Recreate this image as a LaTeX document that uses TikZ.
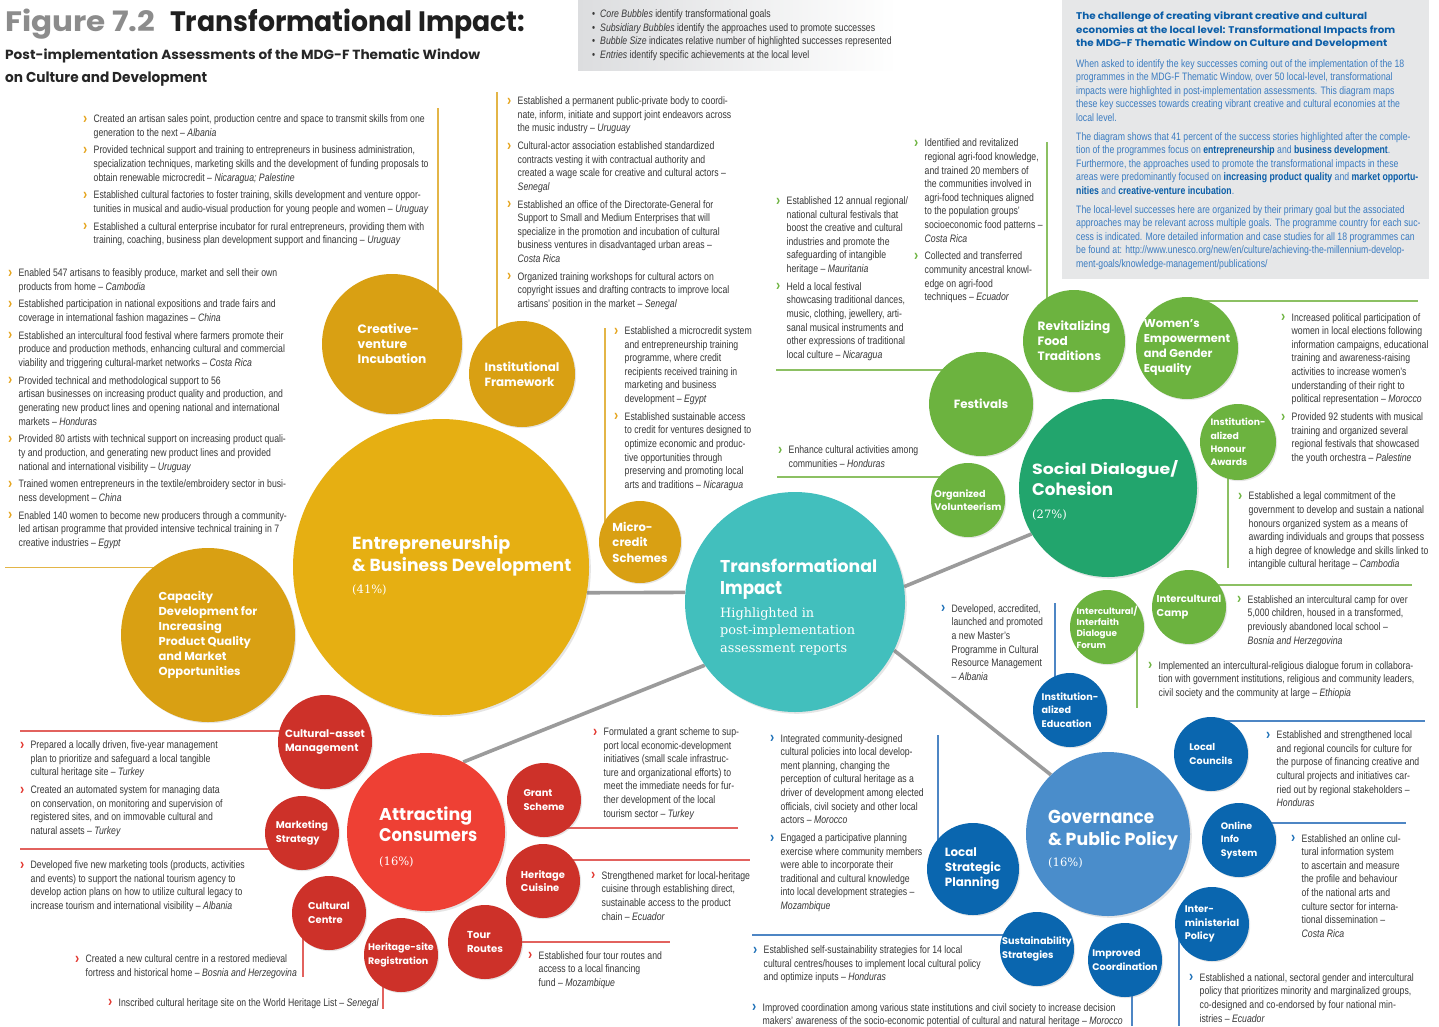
\documentclass[tikz,border=0pt]{standalone}
\usepackage{fontspec}
\usepackage{graphicx}
\setmainfont{Liberation Sans}
\newfontfamily\cond[FakeStretch=0.805]{Liberation Sans}
\newfontfamily\pop{Poppins}
\newfontfamily\slab{DejaVu Serif}
\usetikzlibrary{shadows,backgrounds}
\definecolor{goldC}{HTML}{E6AF12}
\definecolor{goldS}{HTML}{D9A013}
\definecolor{tealC}{HTML}{42BFBD}
\definecolor{greenC}{HTML}{22A56D}
\definecolor{greenS}{HTML}{6CB33F}
\definecolor{blueC}{HTML}{4A8DCB}
\definecolor{blueS}{HTML}{0A66AF}
\definecolor{redC}{HTML}{EE4034}
\definecolor{redS}{HTML}{CD3129}
\definecolor{bodyT}{HTML}{383838}
\definecolor{infoT}{HTML}{3A7BC0}
\definecolor{infoH}{HTML}{0B5EA8}
\definecolor{infoBG}{HTML}{E6E7E8}
\definecolor{legBG}{HTML}{DCDDDF}
\definecolor{connG}{HTML}{9B9B9B}
\definecolor{figG}{HTML}{8C8C8C}
\definecolor{bGold}{HTML}{E5A31A}
\definecolor{bRed}{HTML}{E2352D}
\definecolor{bGreen}{HTML}{6CB33F}
\definecolor{bBlue}{HTML}{1C6FB7}
\definecolor{sGold}{HTML}{E3B547}
\definecolor{sRed}{HTML}{E2625E}
\definecolor{sGreen}{HTML}{8CC063}
\definecolor{sBlue}{HTML}{4E86C4}
\newlength\bulw
\setlength\bulw{10.5pt}
\newcommand\bulx[1]{\makebox[\bulw][l]{\textcolor{#1}{\raisebox{-0.6pt}{\scalebox{1.45}{\bfseries ›}}}}}
\newcommand\bulG{\bulx{bGold}}
\newcommand\bulR{\bulx{bRed}}
\newcommand\bulN{\bulx{bGreen}}
\newcommand\bulB{\bulx{bBlue}}
\newcommand\cindent{\hspace*{\bulw}}
\newcommand\cty[1]{\textit{#1}}
\newcommand\fitb[3]{\resizebox{#1pt}{#2pt}{#3}}
\newcommand\fitw[2]{\resizebox{#1pt}{!}{#2}}
\newcommand\infb[1]{\textcolor{infoH}{\bfseries #1}}
\begin{document}
\begin{tikzpicture}[x=1pt,y=-1pt,
  core/.style 2 args={circle, inner sep=0pt, minimum size=#2, fill=#1, drop shadow={shadow xshift=1.8pt, shadow yshift=-1.8pt, opacity=0.2}},
  bub/.style 2 args={circle, inner sep=0pt, minimum size=#2, fill=#1, drop shadow={shadow xshift=1.2pt, shadow yshift=-1.2pt, opacity=0.2}},
  lb/.style 2 args={text=white, align=left, inner sep=0pt, font=\pop\bfseries\fontsize{#1}{#2}\selectfont},
  hd/.style={anchor=base west, inner sep=0pt, text=white, font=\pop\bfseries},
  pct/.style={anchor=base west, inner sep=0pt, text=white, font=\slab\fontsize{11.5}{14}\selectfont},
  txt/.style={anchor=north west, inner sep=0pt, align=left, text=bodyT, font=\cond\fontsize{10.8}{13.6}\selectfont},
  conn/.style={draw=connG, line width=3.6pt},
  sep/.style={draw=#1, line width=1.2pt},
]
\useasboundingbox (0,0) rectangle (1439,1026);

% ---------- boxes ----------
\shade[left color=legBG, right color=white] (578,0) rectangle (897,70);
\fill[infoBG] (1062,0) rectangle (1429,279);

% ---------- title ----------
\node[hd, text=figG] (tfig) at (5,31) {\fitb{150}{22.5}{Figure 7.2}};
\node[hd, text=black!88] (ttl) at (170,31) {\fitb{355}{22.5}{Transformational Impact:}};
\node[hd, text=black!85] (st1) at (5,59) {\fitb{475}{10.6}{Post-implementation Assessments of the MDG-F Thematic Window}};
\node[hd, text=black!85] (st2) at (5,82.3) {\fitb{202}{10.6}{on Culture and Development}};

% ---------- legend ----------
\node[txt] (leg) at (592,9.7) {%
\makebox[8pt][l]{•}\textit{Core Bubbles} identify transformational goals\\
\makebox[8pt][l]{•}\textit{Subsidiary Bubbles} identify the approaches used to promote successes\\
\makebox[8pt][l]{•}\textit{Bubble Size} indicates relative number of highlighted successes represented\\
\makebox[8pt][l]{•}\textit{Entries} identify specific achievements at the local level};

% ---------- info box ----------
\node[hd, text=infoH] (ih1) at (1076,19.5) {\fitb{291}{7.8}{The challenge of creating vibrant creative and cultural}};
\node[hd, text=infoH] (ih2) at (1076,33) {\fitb{319}{7.8}{economies at the local level: Transformational Impacts from}};
\node[hd, text=infoH] (ih3) at (1076,46.5) {\fitb{311}{7.8}{the MDG-F Thematic Window on Culture and Development}};
\node[txt, text=infoT] (ibody) at (1076,59) {%
When asked to identify the key successes coming out of the implementation of the 18\\
programmes in the MDG-F Thematic Window, over 50 local-level, transformational\\
impacts were highlighted in post-implementation assessments. This diagram maps\\
these key successes towards creating vibrant creative and cultural economies at the\\
local level.\\[5pt]
The diagram shows that 41 percent of the success stories highlighted after the comple-\\
tion of the programmes focus on \infb{entrepreneurship} and \infb{business development}.\\
Furthermore, the approaches used to promote the transformational impacts in these\\
areas were predominantly focused on \infb{increasing product quality} and \infb{market opportu-}\\
\infb{nities} and \infb{creative-venture incubation}.\\[5pt]
The local-level successes here are organized by their primary goal but the associated\\
approaches may be relevant across multiple goals. The programme country for each suc-\\
cess is indicated. More detailed information and case studies for all 18 programmes can\\
be found at: http://www.unesco.org/new/en/culture/achieving-the-millennium-develop-\\
ment-goals/knowledge-management/publications/};

% ---------- bubbles: gold ----------
\node[core={goldC}{296pt}] (ebd) at (441,567) {};
\node[bub={goldS}{140pt}, label={[lb={12.2}{15}]center:{Creative-\\venture\\Incubation}}] (cvi) at (392,344) {};
\node[bub={goldS}{106pt}, label={[lb={11.9}{15}]center:{Institutional\\Framework}}] (ifw) at (522,374) {};
\node[bub={goldS}{82pt}, label={[lb={11.6}{15.5}]center:{Micro-\\credit\\Schemes}}] (mcs) at (640,542) {};
\node[bub={goldS}{174pt}, label={[lb={11.5}{15}]center:{Capacity\\Development for\\Increasing\\Product Quality\\and Market\\Opportunities}}] (cap) at (208,635) {};

% ---------- teal ----------
\node[core={tealC}{220pt}] (ti) at (795,602) {};

% ---------- green ----------
\node[core={greenC}{178pt}] (sdc) at (1108,488) {};
\node[bub={greenS}{102pt}, label={[lb={12.1}{15}]center:{Revitalizing\\Food\\Traditions}}] (rft) at (1074,341) {};
\node[bub={greenS}{102pt}, label={[lb={11.4}{15}]center:{Women’s\\Empowerment\\and Gender\\Equality}}] (weg) at (1187,348) {};
\node[bub={greenS}{104pt}, label={[lb={11.9}{15}]center:{Festivals}}] (fes) at (981,404) {};
\node[bub={greenS}{74pt}, label={[lb={9.6}{13.5}]center:{Organized\\Volunteerism}}] (ovo) at (968,500) {};
\node[bub={greenS}{76pt}, label={[lb={9.3}{13.3}]center:{Institution-\\alized\\Honour\\Awards}}] (iha) at (1238,442) {};
\node[bub={greenS}{74pt}, label={[lb={10}{13.5}]center:{Intercultural\\Camp}}] (icc) at (1189,607) {};
\node[bub={greenS}{74pt}, label={[lb={8.8}{11.3}]center:{Intercultural/\\Interfaith\\Dialogue\\Forum}}] (ifd) at (1107,627) {};

% ---------- blue ----------
\node[core={blueC}{164pt}] (gpp) at (1108,834) {};
\node[bub={blueS}{74pt}, label={[lb={9.6}{13.5}]center:{Institution-\\alized\\Education}}] (ied) at (1070,710) {};
\node[bub={blueS}{74pt}, label={[lb={9.6}{14}]center:{Local\\Councils}}] (lco) at (1211,754) {};
\node[bub={blueS}{74pt}, label={[lb={9.4}{13.5}]center:{Online\\Info\\System}}] (ois) at (1239,840) {};
\node[bub={blueS}{74pt}, label={[lb={9.7}{13.8}]center:{Inter-\\ministerial\\Policy}}] (imp) at (1212,924) {};
\node[bub={blueS}{74pt}, label={[lb={9.6}{14}]center:{Improved\\Coordination}}] (ico) at (1125,960) {};
\node[bub={blueS}{74pt}, label={[lb={9.7}{14}]center:{Sustainability\\Strategies}}] (sst) at (1037,949) {};
\node[bub={blueS}{92pt}, label={[lb={11.9}{15}]center:{Local\\Strategic\\Planning}}] (lsp) at (973,869) {};

% ---------- red ----------
\node[core={redC}{158pt}] (ac) at (426,832) {};
\node[bub={redS}{94pt}, label={[lb={10.5}{14}]center:{Cultural-asset\\Management}}] (cam) at (325,742) {};
\node[bub={redS}{74pt}, label={[lb={9.8}{14}]center:{Marketing\\Strategy}}] (mst) at (302,833) {};
\node[bub={redS}{74pt}, label={[lb={9.9}{14}]center:{Cultural\\Centre}}] (cce) at (329,913) {};
\node[bub={redS}{74pt}, label={[lb={9.5}{13.5}]center:{Heritage-site\\Registration}}] (hsr) at (401,955) {};
\node[bub={redS}{74pt}, label={[lb={10.1}{13.8}]center:{Tour\\Routes}}] (tro) at (485,942) {};
\node[bub={redS}{74pt}, label={[lb={9.9}{13.8}]center:{Heritage\\Cuisine}}] (hcu) at (543,881) {};
\node[bub={redS}{74pt}, label={[lb={9.8}{14}]center:{Grant\\Scheme}}] (gsc) at (544,800) {};

% ---------- core labels ----------
\node[hd] (ebdl1) at (352,549.3) {\fitb{158}{14}{Entrepreneurship}};
\node[hd] (ebdl2) at (352,571) {\fitb{219}{14}{\& Business Development}};
\node[pct] (ebdl3) at (352,593) {(41\%)};
\node[hd] (til1) at (720,572) {\fitb{157}{13.7}{Transformational}};
\node[hd] (til2) at (720,594) {\fitb{62}{13}{Impact}};
\node[pct] (til3) at (720,617) {\fitw{94}{Highlighted in}};
\node[pct] (til4) at (720,634.5) {\fitw{135}{post-implementation}};
\node[pct] (til5) at (720,652) {\fitw{127}{assessment reports}};
\node[hd] (sdcl1) at (1032,474.3) {\fitb{146}{14}{Social Dialogue/}};
\node[hd] (sdcl2) at (1032,495.3) {\fitb{81}{13.5}{Cohesion}};
\node[pct] (sdcl3) at (1032,518) {(27\%)};
\node[hd] (gppl1) at (1048,823.3) {\fitb{106}{13.3}{Governance}};
\node[hd] (gppl2) at (1048,845) {\fitb{130}{14}{\& Public Policy}};
\node[pct] (gppl3) at (1048,866.7) {(16\%)};
\node[hd] (acl1) at (379,820.7) {\fitb{93}{13.7}{Attracting}};
\node[hd] (acl2) at (379,841.7) {\fitb{98}{13}{Consumers}};
\node[pct] (acl3) at (379,865.7) {(16\%)};

% ---------- gold entries ----------
\node[txt] (g1) at (83,114.5) {%
\bulG Created an artisan sales point, production centre and space to transmit skills from one\\
\cindent generation to the next – \cty{Albania}\\[4.2pt]
\bulG Provided technical support and training to entrepreneurs in business administration,\\
\cindent specialization techniques, marketing skills and the development of funding proposals to\\
\cindent obtain renewable microcredit – \cty{Nicaragua; Palestine}\\[4.2pt]
\bulG Established cultural factories to foster training, skills development and venture oppor-\\
\cindent tunities in musical and audio-visual production for young people and women – \cty{Uruguay}\\[4.2pt]
\bulG Established a cultural enterprise incubator for rural entrepreneurs, providing them with\\
\cindent training, coaching, business plan development support and financing – \cty{Uruguay}};

\node[txt] (g2) at (8,268.5) {%
\bulG Enabled 547 artisans to feasibly produce, market and sell their own\\
\cindent products from home – \cty{Cambodia}\\[4.2pt]
\bulG Established participation in national expositions and trade fairs and\\
\cindent coverage in international fashion magazines – \cty{China}\\[4.2pt]
\bulG Established an intercultural food festival where farmers promote their\\
\cindent produce and production methods, enhancing cultural and commercial\\
\cindent viability and triggering cultural-market networks – \cty{Costa Rica}\\[4.2pt]
\bulG Provided technical and methodological support to 56\\
\cindent artisan businesses on increasing product quality and production, and\\
\cindent generating new product lines and opening national and international\\
\cindent markets – \cty{Honduras}\\[4.2pt]
\bulG Provided 80 artists with technical support on increasing product quali-\\
\cindent ty and production, and generating new product lines and provided\\
\cindent national and international visibility – \cty{Uruguay}\\[4.2pt]
\bulG Trained women entrepreneurs in the textile/embroidery sector in busi-\\
\cindent ness development – \cty{China}\\[4.2pt]
\bulG Enabled 140 women to become new producers through a community-\\
\cindent led artisan programme that provided intensive technical training in 7\\
\cindent creative industries – \cty{Egypt}};

\node[txt] (g3) at (507,96.5) {%
\bulG Established a permanent public-private body to coordi-\\
\cindent nate, inform, initiate and support joint endeavors across\\
\cindent the music industry – \cty{Uruguay}\\[4.2pt]
\bulG Cultural-actor association established standardized\\
\cindent contracts vesting it with contractual authority and\\
\cindent created a wage scale for creative and cultural actors –\\
\cindent \cty{Senegal}\\[4.2pt]
\bulG Established an office of the Directorate-General for\\
\cindent Support to Small and Medium Enterprises that will\\
\cindent specialize in the promotion and incubation of cultural\\
\cindent business ventures in disadvantaged urban areas –\\
\cindent \cty{Costa Rica}\\[4.2pt]
\bulG Organized training workshops for cultural actors on\\
\cindent copyright issues and drafting contracts to improve local\\
\cindent artisans’ position in the market – \cty{Senegal}};

\node[txt] (g4) at (614,326.5) {%
\bulG Established a microcredit system\\
\cindent and entrepreneurship training\\
\cindent programme, where credit\\
\cindent recipients received training in\\
\cindent marketing and business\\
\cindent development – \cty{Egypt}\\[4.2pt]
\bulG Established sustainable access\\
\cindent to credit for ventures designed to\\
\cindent optimize economic and produc-\\
\cindent tive opportunities through\\
\cindent preserving and promoting local\\
\cindent arts and traditions – \cty{Nicaragua}};

% ---------- green entries ----------
\node[txt] (n1) at (776,196.5) {%
\bulN Established 12 annual regional/\\
\cindent national cultural festivals that\\
\cindent boost the creative and cultural\\
\cindent industries and promote the\\
\cindent safeguarding of intangible\\
\cindent heritage – \cty{Mauritania}\\[4.2pt]
\bulN Held a local festival\\
\cindent showcasing traditional dances,\\
\cindent music, clothing, jewellery, arti-\\
\cindent sanal musical instruments and\\
\cindent other expressions of traditional\\
\cindent local culture – \cty{Nicaragua}};

\node[txt] (n2) at (914,138.8) {%
\bulN Identified and revitalized\\
\cindent regional agri-food knowledge,\\
\cindent and trained 20 members of\\
\cindent the communities involved in\\
\cindent agri-food techniques aligned\\
\cindent to the population groups’\\
\cindent socioeconomic food patterns –\\
\cindent \cty{Costa Rica}\\[4.2pt]
\bulN Collected and transferred\\
\cindent community ancestral knowl-\\
\cindent edge on agri-food\\
\cindent techniques – \cty{Ecuador}};

\node[txt] (n3) at (778,445.8) {%
\bulN Enhance cultural activities among\\
\cindent communities – \cty{Honduras}};

\node[txt] (n4) at (1281,313) {%
\bulN Increased political participation of\\
\cindent women in local elections following\\
\cindent information campaigns, educational\\
\cindent training and awareness-raising\\
\cindent activities to increase women’s\\
\cindent understanding of their right to\\
\cindent political representation – \cty{Morocco}\\[4.2pt]
\bulN Provided 92 students with musical\\
\cindent training and organized several\\
\cindent regional festivals that showcased\\
\cindent the youth orchestra – \cty{Palestine}};

\node[txt] (n5) at (1238,491.8) {%
\bulN Established a legal commitment of the\\
\cindent government to develop and sustain a national\\
\cindent honours organized system as a means of\\
\cindent awarding individuals and groups that possess\\
\cindent a high degree of knowledge and skills linked to\\
\cindent intangible cultural heritage – \cty{Cambodia}};

\node[txt] (n6) at (1237,595.3) {%
\bulN Established an intercultural camp for over\\
\cindent 5,000 children, housed in a transformed,\\
\cindent previously abandoned local school –\\
\cindent \cty{Bosnia and Herzegovina}};

\node[txt] (n7) at (1148,661.3) {%
\bulN Implemented an intercultural-religious dialogue forum in collabora-\\
\cindent tion with government institutions, religious and community leaders,\\
\cindent civil society and the community at large – \cty{Ethiopia}};

% ---------- blue entries ----------
\node[txt] (u1) at (941,604.3) {%
\bulB Developed, accredited,\\
\cindent launched and promoted\\
\cindent a new Master’s\\
\cindent Programme in Cultural\\
\cindent Resource Management\\
\cindent – \cty{Albania}};

\node[txt] (u2) at (1266,730.7) {%
\bulB Established and strengthened local\\
\cindent and regional councils for culture for\\
\cindent the purpose of financing creative and\\
\cindent cultural projects and initiatives car-\\
\cindent ried out by regional stakeholders –\\
\cindent \cty{Honduras}};

\node[txt] (u3) at (1291,834) {%
\bulB Established an online cul-\\
\cindent tural information system\\
\cindent to ascertain and measure\\
\cindent the profile and behaviour\\
\cindent of the national arts and\\
\cindent culture sector for interna-\\
\cindent tional dissemination –\\
\cindent \cty{Costa Rica}};

\node[txt] (u4) at (1189,973.3) {%
\bulB Established a national, sectoral gender and intercultural\\
\cindent policy that prioritizes minority and marginalized groups,\\
\cindent co-designed and co-endorsed by four national min-\\
\cindent istries – \cty{Ecuador}};

\node[txt] (u5) at (770,734) {%
\bulB Integrated community-designed\\
\cindent cultural policies into local develop-\\
\cindent ment planning, changing the\\
\cindent perception of cultural heritage as a\\
\cindent driver of development among elected\\
\cindent officials, civil society and other local\\
\cindent actors – \cty{Morocco}\\[4.2pt]
\bulB Engaged a participative planning\\
\cindent exercise where community members\\
\cindent were able to incorporate their\\
\cindent traditional and cultural knowledge\\
\cindent into local development strategies –\\
\cindent \cty{Mozambique}};

\node[txt] (u6) at (753,945.7) {%
\bulB Established self-sustainability strategies for 14 local\\
\cindent cultural centres/houses to implement local cultural policy\\
\cindent and optimize inputs – \cty{Honduras}};

\node[txt] (u7) at (752,1003.3) {%
\bulB Improved coordination among various state institutions and civil society to increase decision\\
\cindent makers’ awareness of the socio-economic potential of cultural and natural heritage – \cty{Morocco}};

% ---------- red entries ----------
\node[txt] (r1) at (20,740.5) {%
\bulR Prepared a locally driven, five-year management\\
\cindent plan to prioritize and safeguard a local tangible\\
\cindent cultural heritage site – \cty{Turkey}\\[4.2pt]
\bulR Created an automated system for managing data\\
\cindent on conservation, on monitoring and supervision of\\
\cindent registered sites, and on immovable cultural and\\
\cindent natural assets – \cty{Turkey}};

\node[txt] (r2) at (20,860.5) {%
\bulR Developed five new marketing tools (products, activities\\
\cindent and events) to support the national tourism agency to\\
\cindent develop action plans on how to utilize cultural legacy to\\
\cindent increase tourism and international visibility – \cty{Albania}};

\node[txt] (r3) at (75,954.5) {%
\bulR Created a new cultural centre in a restored medieval\\
\cindent fortress and historical home – \cty{Bosnia and Herzegovina}};

\node[txt] (r4) at (108,998.2) {%
\bulR Inscribed cultural heritage site on the World Heritage List – \cty{Senegal}};

\node[txt] (r5) at (593,727.4) {%
\bulR Formulated a grant scheme to sup-\\
\cindent port local economic-development\\
\cindent initiatives (small scale infrastruc-\\
\cindent ture and organizational efforts) to\\
\cindent meet the immediate needs for fur-\\
\cindent ther development of the local\\
\cindent tourism sector – \cty{Turkey}};

\node[txt] (r6) at (591,871.3) {%
\bulR Strengthened market for local-heritage\\
\cindent cuisine through establishing direct,\\
\cindent sustainable access to the product\\
\cindent chain – \cty{Ecuador}};

\node[txt] (r7) at (528,951.3) {%
\bulR Established four tour routes and\\
\cindent access to a local financing\\
\cindent fund – \cty{Mozambique}};

% ---------- background: separators and connectors ----------
\begin{pgfonlayer}{background}
\fill[white] (0,0) rectangle (1439,1026);
% gold
\draw[sep=sGold] (438,108) -- (438,300);
\draw[sep=sGold] (497,92) -- (497,340);
\draw[sep=sGold] (605,328) -- (605,535);
\draw[sep=sGold] (5,567.5) -- (165,567.5);
% red
\draw[sep=sRed] (20,731) -- (295,731);
\draw[sep=sRed] (20,849) -- (280,849);
\draw[sep=sRed] (303,930) -- (303,977);
\draw[sep=sRed] (383,975) -- (383,1009);
\draw[sep=sRed] (555,828) -- (738,828);
\draw[sep=sRed] (555,860) -- (750,860);
\draw[sep=sRed] (500,942) -- (670,942);
% green
\draw[sep=sGreen] (776,370) -- (960,370);
\draw[sep=sGreen] (777,477) -- (955,477);
\draw[sep=sGreen] (1047,142) -- (1047,320);
\draw[sep=sGreen] (1190,301) -- (1418,301);
\draw[sep=sGreen] (1228,460) -- (1228,568);
\draw[sep=sGreen] (1200,585) -- (1412,585);
\draw[sep=sGreen] (1137,640) -- (1137,708);
% blue
\draw[sep=sBlue] (1055,603) -- (1055,695);
\draw[sep=sBlue] (938,735) -- (938,855);
\draw[sep=sBlue] (752,935) -- (1020,935);
\draw[sep=sBlue] (1211,721) -- (1425,721);
\draw[sep=sBlue] (1239,823) -- (1406,823);
\draw[sep=sBlue] (1179,930) -- (1179,1026);
\draw[sep=sBlue] (1132,975) -- (1132,1026);
% connectors
\draw[conn] (ebd.-10) -- (ti.175);
\draw[conn] (ti.8) -- (sdc.211);
\draw[conn] (ti.215) -- (ac.62);
\draw[conn] (ti.-26) -- (gpp.134);
\end{pgfonlayer}
\end{tikzpicture}
\end{document}
